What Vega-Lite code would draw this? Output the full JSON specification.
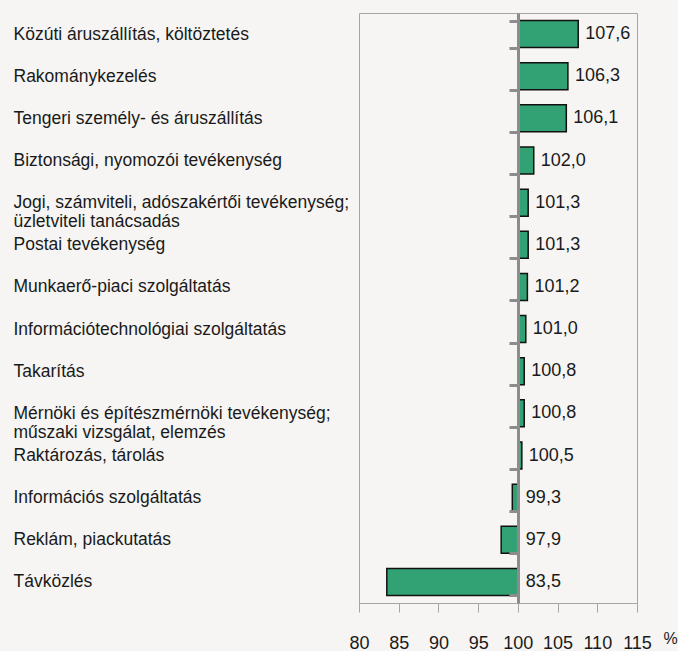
{
  "$schema": "https://vega.github.io/schema/vega-lite/v6.json",
  "width": 278,
  "height": 590,
  "autosize": {"type": "none"},
  "padding": {"left": 359, "top": 13, "right": 41, "bottom": 48},
  "background": "#f6f5f3",
  "config": {
    "view": {"stroke": "#a6a6a6", "strokeWidth": 1},
    "font": "Liberation Sans",
    "axisX": {
      "values": [80, 85, 90, 95, 100, 105, 110, 115],
      "grid": false,
      "tickSize": 9,
      "tickColor": "#a6a6a6",
      "domainColor": "#a6a6a6",
      "labelOverlap": false,
      "labelFlush": false,
      "labelPadding": 36,
      "labelFont": "Liberation Sans",
      "labelFontSize": 18,
      "labelColor": "#1a1a1a",
      "labelBaseline": "alphabetic",
      "titleFont": "Liberation Sans",
      "titleFontSize": 16,
      "titleFontWeight": "normal",
      "titleColor": "#1a1a1a",
      "titleX": 311,
      "titleY": 40,
      "titleAlign": "center",
      "titleBaseline": "alphabetic"
    },
    "locale": {"number": {"decimal": ",", "thousands": " ", "grouping": [3], "currency": ["", ""]}}
  },
  "data": {
    "values": [
      {"category": "Közúti áruszállítás, költöztetés", "value": 107.6},
      {"category": "Rakománykezelés", "value": 106.3},
      {"category": "Tengeri személy- és áruszállítás", "value": 106.1},
      {"category": "Biztonsági, nyomozói tevékenység", "value": 102.0},
      {"category": "Jogi, számviteli, adószakértői tevékenység;|üzletviteli tanácsadás", "value": 101.3},
      {"category": "Postai tevékenység", "value": 101.3},
      {"category": "Munkaerő-piaci szolgáltatás", "value": 101.2},
      {"category": "Információtechnológiai szolgáltatás", "value": 101.0},
      {"category": "Takarítás", "value": 100.8},
      {"category": "Mérnöki és építészmérnöki tevékenység;|műszaki vizsgálat, elemzés", "value": 100.8},
      {"category": "Raktározás, tárolás", "value": 100.5},
      {"category": "Információs szolgáltatás", "value": 99.3},
      {"category": "Reklám, piackutatás", "value": 97.9},
      {"category": "Távközlés", "value": 83.5}
    ]
  },
  "encoding": {
    "y": {
      "field": "category",
      "type": "nominal",
      "sort": null,
      "scale": {"paddingInner": 0.36, "paddingOuter": 0.18},
      "axis": {
        "title": null,
        "orient": "left",
        "offset": -159,
        "tickBand": "extent",
        "tickSize": 9,
        "tickWidth": 3,
        "tickColor": "#8c8c8c",
        "domainColor": "#8c8c8c",
        "domainWidth": 3,
        "labelAlign": "left",
        "labelBaseline": "middle",
        "labelPadding": 496,
        "labelFont": "Liberation Sans",
        "labelFontSize": 17.5,
        "labelLineHeight": 19,
        "labelColor": "#1a1a1a",
        "labelLimit": 0,
        "labelExpr": "split(datum.label, '|')",
        "zindex": 1
      }
    }
  },
  "layer": [
    {
      "mark": {"type": "bar", "fill": "#32a173", "stroke": "#111111", "strokeWidth": 1.5},
      "encoding": {
        "x": {
          "field": "value",
          "type": "quantitative",
          "scale": {"domain": [80, 115], "nice": false, "zero": false},
          "axis": {"title": "%"}
        },
        "x2": {"datum": 100}
      }
    },
    {
      "transform": [{"filter": "datum.value >= 100"}],
      "mark": {"type": "text", "align": "left", "baseline": "middle", "dx": 7, "fontSize": 18, "font": "Liberation Sans", "color": "#1a1a1a"},
      "encoding": {
        "x": {"field": "value", "type": "quantitative", "axis": {"title": "%"}},
        "text": {"field": "value", "type": "quantitative", "format": ".1f"}
      }
    },
    {
      "transform": [{"filter": "datum.value < 100"}],
      "mark": {"type": "text", "align": "left", "baseline": "middle", "dx": 8, "fontSize": 18, "font": "Liberation Sans", "color": "#1a1a1a"},
      "encoding": {
        "x": {"datum": 100, "type": "quantitative", "axis": {"title": "%"}},
        "text": {"field": "value", "type": "quantitative", "format": ".1f"}
      }
    }
  ]
}
